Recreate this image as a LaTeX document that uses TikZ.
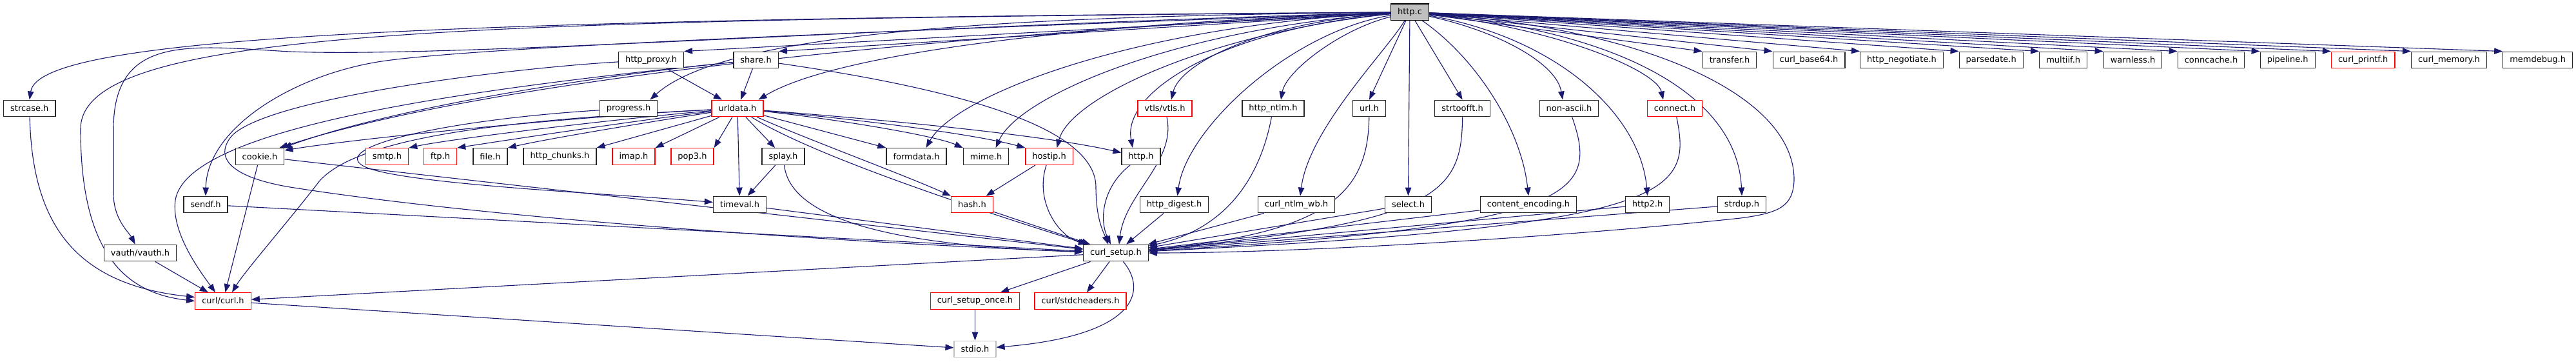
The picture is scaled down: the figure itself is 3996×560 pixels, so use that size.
\documentclass[tikz,border=0pt]{standalone}
\usepackage{fontspec}
\setmainfont{DejaVu Sans}
\usetikzlibrary{arrows.meta,calc,backgrounds}
\definecolor{edgeblue}{HTML}{191970}
\definecolor{grey75}{HTML}{BFBFBF}
\colorlet{boxline}{black!85}
\colorlet{truncred}{red}
\tikzset{
  hdr/.style={draw=boxline, line width=1.3pt, fill=white, minimum height=25.6pt,
    inner xsep=10.5pt, inner ysep=0pt, font=\fontsize{13}{15}\selectfont},
  dep/.style={edgeblue, line width=1.1pt, -{Triangle[length=13pt,width=9.5pt]}}
}

\begin{document}
\begin{tikzpicture}[x=1pt,y=-1pt]
   \useasboundingbox (0,0) rectangle (3996,560);
   \node[hdr, fill=grey75, draw=black] (httpc) at (2187,18.7) {http.c};
   \foreach \n/\x/\c/\t in {proxy/1010/boxline/http\_proxy.h, share/1172.6/boxline/share.h,
     transfer/2683/boxline/transfer.h, base64/2806/boxline/curl\_base64.h,
     negotiate/2950/boxline/http\_negotiate.h, parsedate/3088.7/boxline/parsedate.h,
     multiif/3200.7/boxline/multiif.h, warnless/3308.5/boxline/warnless.h,
     conncache/3430/boxline/conncache.h, pipeline/3548.7/boxline/pipeline.h,
     printfh/3665.7/truncred/curl\_printf.h, memory/3799/boxline/curl\_memory.h,
     memdebug/3936.6/boxline/memdebug.h} {
    \node[hdr, draw=\c] (\n) at (\x,93) {\t};
   }
   \foreach \n/\x/\c/\t in {strcase/45.8/boxline/strcase.h, progress/975/boxline/progress.h,
     urldata/1144/truncred/urldata.h, ntlm/1975/boxline/http\_ntlm.h, url/2124/boxline/url.h,
     strtoofft/2268.6/boxline/strtoofft.h, nonascii/2434/boxline/non-ascii.h,
     connect/2598/truncred/connect.h} {
    \node[hdr, draw=\c] (\n) at (\x,168) {\t};
   }
   \node[hdr, draw=truncred] (vtls) at (1807,168) {vtls/vtls.h};
   \foreach \n/\x/\c/\t in {cookie/403/boxline/cookie.h, smtp/600.5/truncred/smtp.h,
     ftp/683/truncred/ftp.h, file/760.5/boxline/file.h, chunks/868.5/boxline/http\_chunks.h,
     imap/983/truncred/imap.h, pop3/1074/truncred/pop3.h, splay/1215/boxline/splay.h,
     formdata/1421.5/boxline/formdata.h, mime/1529.6/boxline/mime.h,
     hostip/1627.6/truncred/hostip.h, httph/1770/boxline/http.h} {
    \node[hdr, draw=\c] (\n) at (\x,242.5) {\t};
   }
   \foreach \n/\x/\c/\t in {sendf/319/boxline/sendf.h, timeval/1147.5/boxline/timeval.h,
     hash/1508/truncred/hash.h, digest/1821.5/boxline/http\_digest.h,
     ntlmwb/2011/boxline/curl\_ntlm\_wb.h, select/2184.5/boxline/select.h,
     contenc/2371/boxline/content\_encoding.h, http2/2555.6/boxline/http2.h,
     strdup/2702/boxline/strdup.h} {
    \node[hdr, draw=\c] (\n) at (\x,317) {\t};
   }
   \node[hdr] (vauth) at (217.6,392) {vauth/vauth.h};
   \node[hdr] (setup) at (1731,392) {curl\_setup.h};
   \node[hdr, draw=truncred] (curlh) at (346,466.5) {curl/curl.h};
   \node[hdr, draw=truncred] (once) at (1512.5,466.5) {curl\_setup\_once.h};
   \node[hdr, draw=truncred] (stdch) at (1676,466.5) {curl/stdcheaders.h};
   \node[hdr, draw=grey75] (stdio) at (1512.5,541) {stdio.h};

   \begin{scope}[on background layer]
   \foreach \n in {transfer,base64,negotiate,parsedate,multiif,warnless,conncache,pipeline,printfh,memory,memdebug} {
    \draw[dep] (httpc) -- (\n.north west);
   }
   \foreach \n in {proxy,share} {
    \draw[dep] (httpc) -- (\n.north east);
   }
   \foreach \n in {url,strtoofft,select} {
    \draw[dep] (httpc) -- (\n.north);
   }
   \draw[dep] (httpc) .. controls (600,30) and (60,60) .. (strcase.north);
   \draw[dep] (httpc) .. controls (700,32) and (125,45) .. (125,200) .. controls (125,400) and (200,455) .. (curlh.west);
   \draw[dep] (httpc) .. controls (1400,40) and (700,90) .. (450,80) .. controls (300,72) and (176,50) .. (176,200)
     -- (176,300) .. controls (176,340) and (200,360) .. ($(vauth.north)+(-8,0)$);
   \draw[dep] (httpc) .. controls (1300,50) and (700,75) .. (580,97) .. controls (450,120) and (321,200) .. (sendf.north);
   \draw[dep] (httpc) .. controls (1600,25) and (1130,45) .. ($(progress.north east)+(-12,0)$);
   \draw[dep] (httpc) .. controls (1700,35) and (1300,80) .. ($(urldata.north east)+(-8,0)$);
   \draw[dep] (httpc) .. controls (1950,35) and (1830,100) .. ($(vtls.north)+(10,0)$);
   \draw[dep] (httpc) .. controls (2080,45) and (1995,110) .. ($(ntlm.north)+(12,0)$);
   \draw[dep] (httpc) .. controls (2330,50) and (2415,100) .. ($(nonascii.north)+(-10,0)$);
   \draw[dep] (httpc) .. controls (2420,45) and (2570,110) .. ($(connect.north)+(-18,0)$);
   \draw[dep] (httpc) .. controls (1600,45) and (800,110) .. ($(cookie.north east)+(-8,0)$);
   \draw[dep] (httpc) .. controls (1750,40) and (1480,150) .. ($(formdata.north)+(15,0)$);
   \draw[dep] (httpc) .. controls (1820,45) and (1580,150) .. ($(mime.north)+(15,0)$);
   \draw[dep] (httpc) .. controls (1880,50) and (1660,150) .. ($(hostip.north)+(12,0)$);
   \draw[dep] (httpc) .. controls (1900,45) and (1740,140) .. ($(httph.north)+(-13,0)$);
   \draw[dep] (httpc) .. controls (2000,50) and (1840,200) .. ($(digest.north)+(5,0)$);
   \draw[dep] (httpc) .. controls (2150,80) and (2030,200) .. ($(ntlmwb.north)+(6,0)$);
   \draw[dep] (httpc) .. controls (2290,90) and (2360,200) .. (contenc.north);
   \draw[dep] (httpc) .. controls (2420,60) and (2545,180) .. (http2.north);
   \draw[dep] (httpc) .. controls (2520,50) and (2695,150) .. (strdup.north);
   \draw[dep] (httpc) .. controls (2560,45) and (2785,150) .. (2783,280) .. controls (2781,320) and (2760,330) .. (2700,338)
     .. controls (2400,370) and (2000,392) .. (setup.east);

   \draw[dep] (proxy) -- (urldata);
   \draw[dep] (proxy) .. controls (800,105) and (420,150) .. (360,210) .. controls (330,245) and (360,275) .. (450,290)
     .. controls (800,345) and (1400,380) .. (setup);
   \draw[dep] (share) -- (urldata);
   \draw[dep] (share) .. controls (900,120) and (600,170) .. ($(cookie.north east)+(-2,0)$);
   \draw[dep] (share) .. controls (700,140) and (290,200) .. (272,310) .. controls (265,360) and (310,420) .. ($(curlh.north)+(-12,0)$);
   \draw[dep] (share) .. controls (1500,140) and (1700,200) .. (1700,290) .. controls (1700,340) and (1712,360) .. ($(setup.north)+(-12,0)$);
   \draw[dep] (progress) .. controls (700,185) and (520,225) .. (560,255) .. controls (600,285) and (950,300) .. (timeval);

   \foreach \n in {chunks,imap,pop3} {
    \draw[dep] (urldata) -- (\n.north east);
   }
   \draw[dep] (urldata) -- (splay);
   \draw[dep] (urldata) -- (timeval);
   \draw[dep] (urldata) -- (formdata.north west);
   \draw[dep] (urldata) .. controls (1000,190) and (850,215) .. (file.north east);
   \draw[dep] (urldata) .. controls (1000,185) and (800,215) .. (ftp.north east);
   \draw[dep] (urldata) .. controls (950,185) and (700,215) .. (smtp.north east);
   \draw[dep] (urldata) .. controls (900,180) and (550,215) .. ($(cookie.north east)+(0,4)$);
   \draw[dep] (urldata) .. controls (1300,185) and (1450,210) .. (mime.north west);
   \draw[dep] (urldata) .. controls (1300,182) and (1500,205) .. (hostip.north west);
   \draw[dep] (urldata) .. controls (1300,180) and (1600,205) .. ($(httph.west)+(0,-6)$);
   \draw[dep] (urldata) .. controls (1250,215) and (1400,270) .. (hash.north west);
   \draw[dep] (urldata) .. controls (1260,240) and (1500,320) .. (setup);
   \draw[dep] (urldata) .. controls (800,185) and (560,210) .. (496,280) .. controls (450,340) and (380,420) .. ($(curlh.north)+(14,0)$);

   \draw[dep] (strcase) .. controls (50,340) and (110,440) .. ($(curlh.west)+(0,-6)$);
   \draw[dep] (vauth) -- (curlh);
   \draw[dep] (cookie) -- (curlh);
   \draw[dep] (cookie) -- (setup);
   \draw[dep] (sendf) -- (setup);
   \draw[dep] (splay) -- (timeval);
   \draw[dep] (splay) .. controls (1225,330) and (1350,380) .. (setup);
   \draw[dep] (timeval) -- (setup);
   \draw[dep] (hostip) -- (hash);
   \draw[dep] (hash) -- (setup);
   \draw[dep] (hostip) .. controls (1605,310) and (1640,365) .. (setup);
   \draw[dep] (httph) .. controls (1710,290) and (1705,340) .. ($(setup.north)+(-8,0)$);
   \draw[dep] (vtls) .. controls (1825,250) and (1745,300) .. ($(setup.north)+(5,0)$);
   \draw[dep] (digest) -- (setup);
   \draw[dep] (ntlm) .. controls (1950,300) and (1880,360) .. (setup);
   \draw[dep] (ntlmwb) -- (setup);
   \draw[dep] (url) .. controls (2122,300) and (2060,360) .. (setup);
   \draw[dep] (select) -- (setup);
   \draw[dep] (strtoofft) .. controls (2268,300) and (2230,345) .. (setup);
   \draw[dep] (contenc) -- (setup);
   \draw[dep] (nonascii) .. controls (2480,300) and (2450,350) .. (setup);
   \draw[dep] (http2) -- (setup);
   \draw[dep] (connect) .. controls (2625,300) and (2600,350) .. (setup);
   \draw[dep] (strdup) -- (setup);

   \draw[dep] (setup) -- (curlh);
   \draw[dep] (setup) -- (once);
   \draw[dep] (setup) -- (stdch);
   \draw[dep] (setup) .. controls (1780,450) and (1765,520) .. (stdio);
   \draw[dep] (once) -- (stdio);
   \draw[dep] (curlh) -- (stdio);
   \end{scope}
\end{tikzpicture}
\end{document}
